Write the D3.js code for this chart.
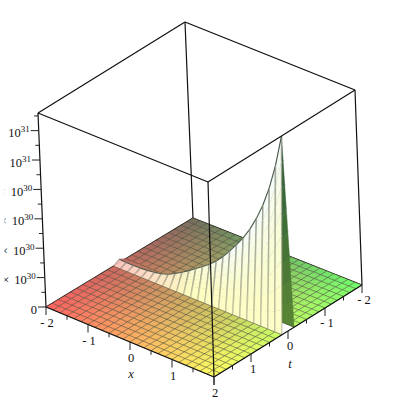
<!DOCTYPE html>
<html>
<head>
<meta charset="utf-8">
<style>
  html, body { margin: 0; padding: 0; background: #fff; }
  svg { display: block; }
  text { font-family: 'Liberation Serif', serif; font-size: 12.5px; fill: #111; }
</style>
<script src="https://cdn.jsdelivr.net/npm/d3@7"></script>
</head>
<body>
<div id="plot"></div>
<script>
// grid of the surface, 25 points each way
const xValues = [-2, -1.8333, -1.6667, -1.5, -1.3333, -1.1667, -1, -0.8333, -0.6667, -0.5, -0.3333, -0.1667, 0, 0.1667, 0.3333, 0.5, 0.6667, 0.8333, 1, 1.1667, 1.3333, 1.5, 1.6667, 1.8333, 2];
const tValues = [-2, -1.8333, -1.6667, -1.5, -1.3333, -1.1667, -1, -0.8333, -0.6667, -0.5, -0.3333, -0.1667, 0, 0.1667, 0.3333, 0.5, 0.6667, 0.8333, 1, 1.1667, 1.3333, 1.5, 1.6667, 1.8333, 2];
// height of the t = 0 row, in units of 10^30
const ridgeValues = [0.22, 0.2, 0.18, 0.2, 0.24, 0.3, 0.4, 0.56, 0.8, 1.08, 1.38, 1.72, 2.05, 2.4, 2.8, 3.3, 3.88, 4.5, 5.15, 5.93, 6.85, 7.95, 9.3, 11.0, 13.2];

const xTicks = [-2, -1, 0, 1, 2];
const xMinor = [-1.5, -0.5, 0.5, 1.5];
const tTicks = [2, 1, 0, -1, -2];
const tMinor = [1.5, 0.5, -0.5, -1.5];
const zTicks = [0, 2, 4, 6, 8, 10, 12];
const zMinor = [1, 3, 5, 7, 9, 11, 13];
const zTickLabels = ['0', '2 ×', '4 ×', '6 ×', '8 ×', '1 ×', '1.2 ×'];
const zTickPowers = ['', '30', '30', '30', '30', '31', '31'];

const WIDTH = 400;
const HEIGHT = 400;

const svg = d3.select('#plot').append('svg').attr('width', WIDTH).attr('height', HEIGHT);

// the original image cuts the z labels a little inside its left edge
svg.append('clipPath').attr('id', 'labelClip').append('rect')
  .attr('x', 4.5).attr('y', 0).attr('width', WIDTH).attr('height', HEIGHT);

// box corners on the page
const base = { left: [46, 307], front: [214, 377], right: [362, 285], back: [193, 218] };
const top_ = { left: [38, 113], front: [208, 182], right: [355, 90], back: [185, 22] };

const xScale = d3.scaleLinear().domain([-2, 2]).range([0, 1]);
const tScale = d3.scaleLinear().domain([2, -2]).range([0, 1]);
const zScale = d3.scaleLinear().domain([0, 13.2]).range([0, 1]);

const mix = (a, b, k) => [a[0] + (b[0] - a[0]) * k, a[1] + (b[1] - a[1]) * k];
const onFace = (f, u, v) => mix(mix(f.left, f.front, u), mix(f.back, f.right, u), v);
const project = (x, t, z) => mix(onFace(base, xScale(x), tScale(t)), onFace(top_, xScale(x), tScale(t)), zScale(z));

const path = d3.line();
const poly = pts => path(pts) + 'Z';

// ground colours, corner to corner
const nearColor = d3.scaleLinear().domain([-2, 2]).range(['#ff6262', '#ffff62']);
const farColor = d3.scaleLinear().domain([-2, 2]).range(['#6e6e5f', '#6cff6c']);
const groundColor = (x, t) => d3.interpolateRgb(farColor(x), nearColor(x))(Math.pow(1 - tScale(t), 0.75));

// wall colours
const wallColor = d3.scaleLinear().domain([-2, -1.2, -0.2, 2]).range(['#fcc0ba', '#fddcc0', '#fdfdbe', '#fdfdc8']);

const heightAt = (i, j) => (tValues[j] === 0 ? ridgeValues[i] : 0);

// axis box behind the surface
const boxBack = [
  [base.left, base.back], [base.back, base.right],
  [base.back, top_.back], [top_.left, top_.back], [top_.back, top_.right]
];
svg.append('g').selectAll('path').data(boxBack).join('path')
  .attr('d', d => path(d)).attr('fill', 'none').attr('stroke', '#111').attr('stroke-width', 1.2);

// surface cells, far ones first
let cells = [];
for (let i = 0; i < xValues.length - 1; i++) {
  for (let j = 0; j < tValues.length - 1; j++) {
    cells.push({ i, j, key: xValues[i] + xValues[i + 1] + tValues[j] + tValues[j + 1] });
  }
}
cells.sort((a, b) => a.key - b.key);

const meshCol = 'rgba(50,50,35,0.45)';
const surface = svg.append('g');
cells.forEach(c => {
  const x0 = xValues[c.i], x1 = xValues[c.i + 1], t0 = tValues[c.j], t1 = tValues[c.j + 1];
  const z = [heightAt(c.i, c.j), heightAt(c.i + 1, c.j), heightAt(c.i + 1, c.j + 1), heightAt(c.i, c.j + 1)];
  const mid = (x0 + x1) / 2;
  if (d3.max(z) === 0) {
    surface.append('path')
      .attr('d', poly([project(x0, t0, 0), project(x1, t0, 0), project(x1, t1, 0), project(x0, t1, 0)]))
      .attr('fill', groundColor(mid, (t0 + t1) / 2))
      .attr('stroke', meshCol).attr('stroke-width', 0.8);
    return;
  }
  // wall cell, cut into slices so it can fade with height
  const front = t0 === 0;
  const topT = front ? t0 : t1;
  const footT = front ? t1 : t0;
  const zA = ridgeValues[c.i], zB = ridgeValues[c.i + 1];
  const slices = d3.range(0, 8);
  slices.forEach(s => {
    const a = s / 8, b = (s + 1) / 8;
    const tA = footT + (topT - footT) * a, tB = footT + (topT - footT) * b;
    let fill;
    if (front) fill = d3.interpolateRgb(wallColor(mid), '#f6fcf6')(Math.pow(b, 2) * Math.min(1, (zA + zB) / 8));
    else if (zB > 9) fill = d3.interpolateRgb('#5d8a33', '#2f5d3a')(b);
    else fill = groundColor(mid, footT);
    surface.append('path')
      .attr('d', poly([project(x0, tA, zA * a), project(x1, tA, zB * a), project(x1, tB, zB * b), project(x0, tB, zA * b)]))
      .attr('fill', fill).attr('stroke', fill).attr('stroke-width', 0.4);
  });
  surface.append('path')
    .attr('d', path([project(x0, footT, 0), project(x1, footT, 0)]))
    .attr('stroke', meshCol).attr('stroke-width', 0.8).attr('fill', 'none');
  // rib lines on the near face
  if (front) {
    [[x0, zA], [x1, zB]].forEach(r => {
      slices.forEach(s => {
        const a = s / 8, b = (s + 1) / 8;
        const tA = footT + (topT - footT) * a, tB = footT + (topT - footT) * b;
        surface.append('path')
          .attr('d', path([project(r[0], tA, r[1] * a), project(r[0], tB, r[1] * b)]))
          .attr('stroke', '#77796a').attr('stroke-opacity', 0.3 + 0.25 * b).attr('stroke-width', 1.5).attr('fill', 'none');
      });
    });
    surface.append('path')
      .attr('d', path([project(x0, topT, zA), project(x1, topT, zB)]))
      .attr('stroke', '#33423a').attr('stroke-width', 1.1).attr('stroke-opacity', 0.85).attr('fill', 'none');
  }
});

// axis box in front of the surface
const boxFront = [
  [base.left, base.front], [base.front, base.right],
  [base.left, top_.left], [base.front, top_.front], [base.right, top_.right],
  [top_.left, top_.front], [top_.front, top_.right]
];
svg.append('g').selectAll('path').data(boxFront).join('path')
  .attr('d', d => path(d)).attr('fill', 'none').attr('stroke', '#111').attr('stroke-width', 1.2);

// ticks
const ticks = svg.append('g').attr('stroke', '#222').attr('stroke-width', 1).attr('fill', 'none');
const drop = (p, len) => path([p, [p[0], p[1] + len]]);
ticks.selectAll('.xt').data(xTicks).join('path').attr('class', 'xt').attr('d', d => drop(project(d, 2, 0), 8));
ticks.selectAll('.xm').data(xMinor).join('path').attr('class', 'xm').attr('d', d => drop(project(d, 2, 0), 4));
ticks.selectAll('.tt').data(tTicks).join('path').attr('class', 'tt').attr('d', d => drop(project(2, d, 0), 8));
ticks.selectAll('.tm').data(tMinor).join('path').attr('class', 'tm').attr('d', d => drop(project(2, d, 0), 4));
const leftward = (p, len) => path([p, [p[0] - len, p[1]]]);
ticks.selectAll('.zt').data(zTicks).join('path').attr('class', 'zt').attr('d', d => leftward(project(-2, 2, d), 8));
ticks.selectAll('.zm').data(zMinor).join('path').attr('class', 'zm').attr('d', d => leftward(project(-2, 2, d), 4));

// tick labels
const fmt = d => (d < 0 ? '- ' + Math.abs(d) : String(d));
svg.selectAll('.xlab').data(xTicks).join('text').attr('class', 'xlab')
  .attr('text-anchor', 'middle')
  .attr('x', d => project(d, 2, 0)[0] + 1)
  .attr('y', d => project(d, 2, 0)[1] + 20)
  .text(fmt);
svg.selectAll('.tlab').data(tTicks.slice(1)).join('text').attr('class', 'tlab')
  .attr('text-anchor', 'middle')
  .attr('x', d => project(2, d, 0)[0] + 2)
  .attr('y', d => project(2, d, 0)[1] + 19)
  .text(fmt);

const zLab = svg.append('g').attr('clip-path', 'url(#labelClip)')
  .selectAll('.zlab').data(zTicks).join('text').attr('class', 'zlab')
  .attr('text-anchor', 'end')
  .attr('x', d => project(-2, 2, d)[0] - 9)
  .attr('y', d => project(-2, 2, d)[1] + 6.5);
zLab.append('tspan').text((d, i) => zTickLabels[i]);
zLab.filter(d => d > 0).append('tspan').attr('dx', 5).text('10');
zLab.filter(d => d > 0).append('tspan').attr('dy', -5).style('font-size', '9px').text(d => zTickPowers[zTicks.indexOf(d)]);

// axis names
svg.append('text').attr('x', 131).attr('y', 378).attr('text-anchor', 'middle').style('font-style', 'italic').text('x');
svg.append('text').attr('x', 290).attr('y', 368).attr('text-anchor', 'middle').style('font-style', 'italic').text('t');
</script>
</body>
</html>
